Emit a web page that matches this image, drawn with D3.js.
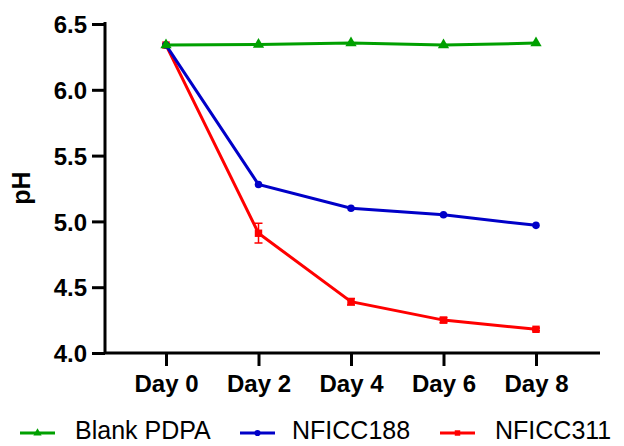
<!DOCTYPE html>
<html>
<head>
<meta charset="utf-8">
<script src="https://cdn.jsdelivr.net/npm/d3@7"></script>
<style>
  body { margin: 0; background: #fff; }
  svg { display: block; font-family: Arial, "Liberation Sans", sans-serif; }
</style>
</head>
<body>
<svg id="chart" width="624" height="446"></svg>
<script>
// data
let days = ["Day 0", "Day 2", "Day 4", "Day 6", "Day 8"];
let blank = [6.34, 6.345, 6.355, 6.34, 6.355];
let nf188 = [6.34, 5.28, 5.10, 5.05, 4.97];
let nf311 = [6.34, 4.91, 4.39, 4.25, 4.18];
let err311 = [0.01, 0.075, 0.025, 0.02, 0.01];
let yTicks = [4.0, 4.5, 5.0, 5.5, 6.0, 6.5];

let series = [
    {name: "Blank PDPA", vals: blank, err: null, color: "#00a000", shape: d3.symbolTriangle},
    {name: "NFICC188", vals: nf188, err: null, color: "#0000c8", shape: d3.symbolCircle},
    {name: "NFICC311", vals: nf311, err: err311, color: "#ff0000", shape: d3.symbolSquare}
];

let svg = d3.select("#chart");

let yScale = d3.scaleLinear()
    .domain([4.0, 6.5])
    .range([353, 24]);

let xScale = d3.scalePoint()
    .domain(days)
    .range([166, 536]);

let line = d3.line()
    .x((d, i) => xScale(days[i]))
    .y(d => yScale(d));

// axes
let yAxis = svg.append("g")
    .attr("transform", "translate(105,0)")
    .call(d3.axisLeft(yScale).tickValues(yTicks).tickFormat(d3.format(".1f")).tickSize(13).tickSizeOuter(0));

let xAxis = svg.append("g")
    .attr("transform", "translate(0,353)")
    .call(d3.axisBottom(xScale).tickSize(13).tickSizeOuter(0));

xAxis.select(".domain").attr("d", "M105,0H600");

for(let ax of [xAxis, yAxis]) {
    ax.selectAll("path, line")
        .attr("stroke", "#000")
        .attr("stroke-width", 3);
    ax.selectAll("text")
        .attr("fill", "#000")
        .attr("font-size", 24)
        .attr("font-weight", "bold");
}
yAxis.select(".domain").attr("d", "M0,353V22");
yAxis.selectAll("text").attr("x", -18).attr("dy", "0.36em");
xAxis.selectAll("text").attr("y", 22);

svg.append("text")
    .attr("transform", "translate(30,188) rotate(-90)")
    .attr("text-anchor", "middle")
    .attr("font-size", 25)
    .attr("font-weight", "bold")
    .text("pH");

// series, drawn back to front so green ends on top at day 0
for(let s of series.slice().reverse()) {
    let g = svg.append("g");
    g.append("path")
        .attr("d", line(s.vals))
        .attr("fill", "none")
        .attr("stroke", s.color)
        .attr("stroke-width", 3);

    if(s.err) {
        g.selectAll(".err")
            .data(s.vals)
            .enter()
            .append("path")
            .attr("fill", "none")
            .attr("stroke", s.color)
            .attr("stroke-width", 1.5)
            .attr("d", (d, i) => {
                let x = xScale(days[i]),
                    y0 = yScale(d - s.err[i]),
                    y1 = yScale(d + s.err[i]);
                return "M" + (x - 4) + "," + y0 + "H" + (x + 4) + "M" + x + "," + y0 + "V" + y1 + "M" + (x - 4) + "," + y1 + "H" + (x + 4);
            });
    }

    g.selectAll(".pt")
        .data(s.vals)
        .enter()
        .append("path")
        .attr("d", d3.symbol().type(s.shape).size(s.shape === d3.symbolCircle ? 45 : 55))
        .attr("transform", (d, i) => "translate(" + xScale(days[i]) + "," + yScale(d) + ")")
        .attr("fill", s.color);
}

// legend
let legendX = [20, 240, 440];
let legend = svg.append("g");
series.forEach((s, i) => {
    let lg = legend.append("g").attr("transform", "translate(" + legendX[i] + ",433)");
    lg.append("line")
        .attr("x1", 0).attr("x2", 35)
        .attr("stroke", s.color)
        .attr("stroke-width", 3);
    lg.append("path")
        .attr("d", d3.symbol().type(s.shape).size(30))
        .attr("transform", "translate(17.5,0)")
        .attr("fill", s.color);
    lg.append("text")
        .attr("x", i === 1 ? 52 : 55)
        .attr("y", 6)
        .attr("font-size", 25)
        .attr("fill", "#000")
        .text(s.name);
});
</script>
</body>
</html>
